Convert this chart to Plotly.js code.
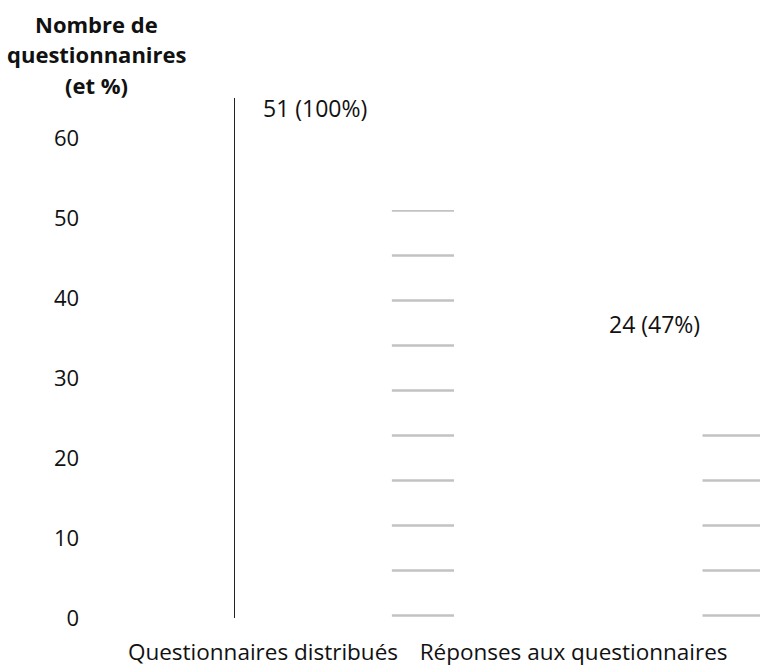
<!DOCTYPE html>
<html>
<head>
<meta charset="utf-8">
<script src="https://cdn.plot.ly/plotly-3.0.1.min.js"></script>
<style>
  html, body { margin: 0; padding: 0; background: #fff; }
  #chart { width: 760px; height: 669px; }
</style>
</head>
<body>
<div id="chart"></div>
<script>
// Questionnaires: distributed vs. answered
const categories = ['Questionnaires distribués', 'Réponses aux questionnaires'];
const counts = [51, 24];
const percents = [100, 47];
const yTicks = [0, 10, 20, 30, 40, 50, 60];
const titleLines = ['Nombre de', 'questionnanires', '(et %)'];

const FONT = 'Open Sans, Lato, sans-serif';

// horizontal offsets (px) of the value labels and vertical offsets of the title lines
const labelShiftX = [52, 81];
const labelShiftY = 102;
const titleShiftY = [74, 44, 13];

const trace = {
  type: 'bar',
  x: categories,
  y: counts,
  offset: 0.415,
  width: 0.2,
  marker: {
    color: '#ffffff',
    line: { width: 0 },
    pattern: {
      shape: '-',
      size: 45,
      solidity: 0.06,
      fgcolor: '#c2c2c2',
      bgcolor: '#ffffff'
    }
  },
  hoverinfo: 'skip'
};

// value labels above each bar
const valueLabels = categories.map((c, i) => ({
  x: c,
  y: counts[i],
  xref: 'x',
  yref: 'y',
  text: counts[i] + ' (' + percents[i] + '%)',
  showarrow: false,
  xanchor: 'center',
  yanchor: 'middle',
  xshift: labelShiftX[i],
  yshift: labelShiftY,
  font: { family: FONT, size: 23, color: '#111' }
}));

// stacked axis title, written horizontally above the tick labels
const titleAnnots = titleLines.map((t, i) => ({
  x: -0.263,
  y: 1,
  xref: 'paper',
  yref: 'paper',
  yshift: titleShiftY[i],
  text: '<b>' + t + '</b>',
  showarrow: false,
  xanchor: 'center',
  yanchor: 'middle',
  font: { family: FONT, size: 22, color: '#111' }
}));

const layout = {
  width: 760,
  height: 669,
  margin: { l: 235, r: 0, t: 98, b: 51 },
  paper_bgcolor: '#ffffff',
  plot_bgcolor: '#ffffff',
  showlegend: false,
  font: { family: FONT, color: '#111' },
  xaxis: {
    type: 'category',
    range: [-0.09, 1.6],
    showgrid: false,
    zeroline: false,
    showline: false,
    ticks: '',
    ticklabelstandoff: 18,
    tickfont: { family: FONT, size: 22.5, color: '#111' }
  },
  yaxis: {
    range: [0, 65],
    tickvals: yTicks,
    ticktext: yTicks.map(String),
    showgrid: false,
    zeroline: false,
    showline: true,
    linecolor: '#222',
    linewidth: 1.5,
    ticks: '',
    ticklabelstandoff: 150,
    tickfont: { family: FONT, size: 22, color: '#111' }
  },
  annotations: valueLabels.concat(titleAnnots)
};

Plotly.newPlot('chart', [trace], layout, { staticPlot: true, displayModeBar: false });
</script>
</body>
</html>
